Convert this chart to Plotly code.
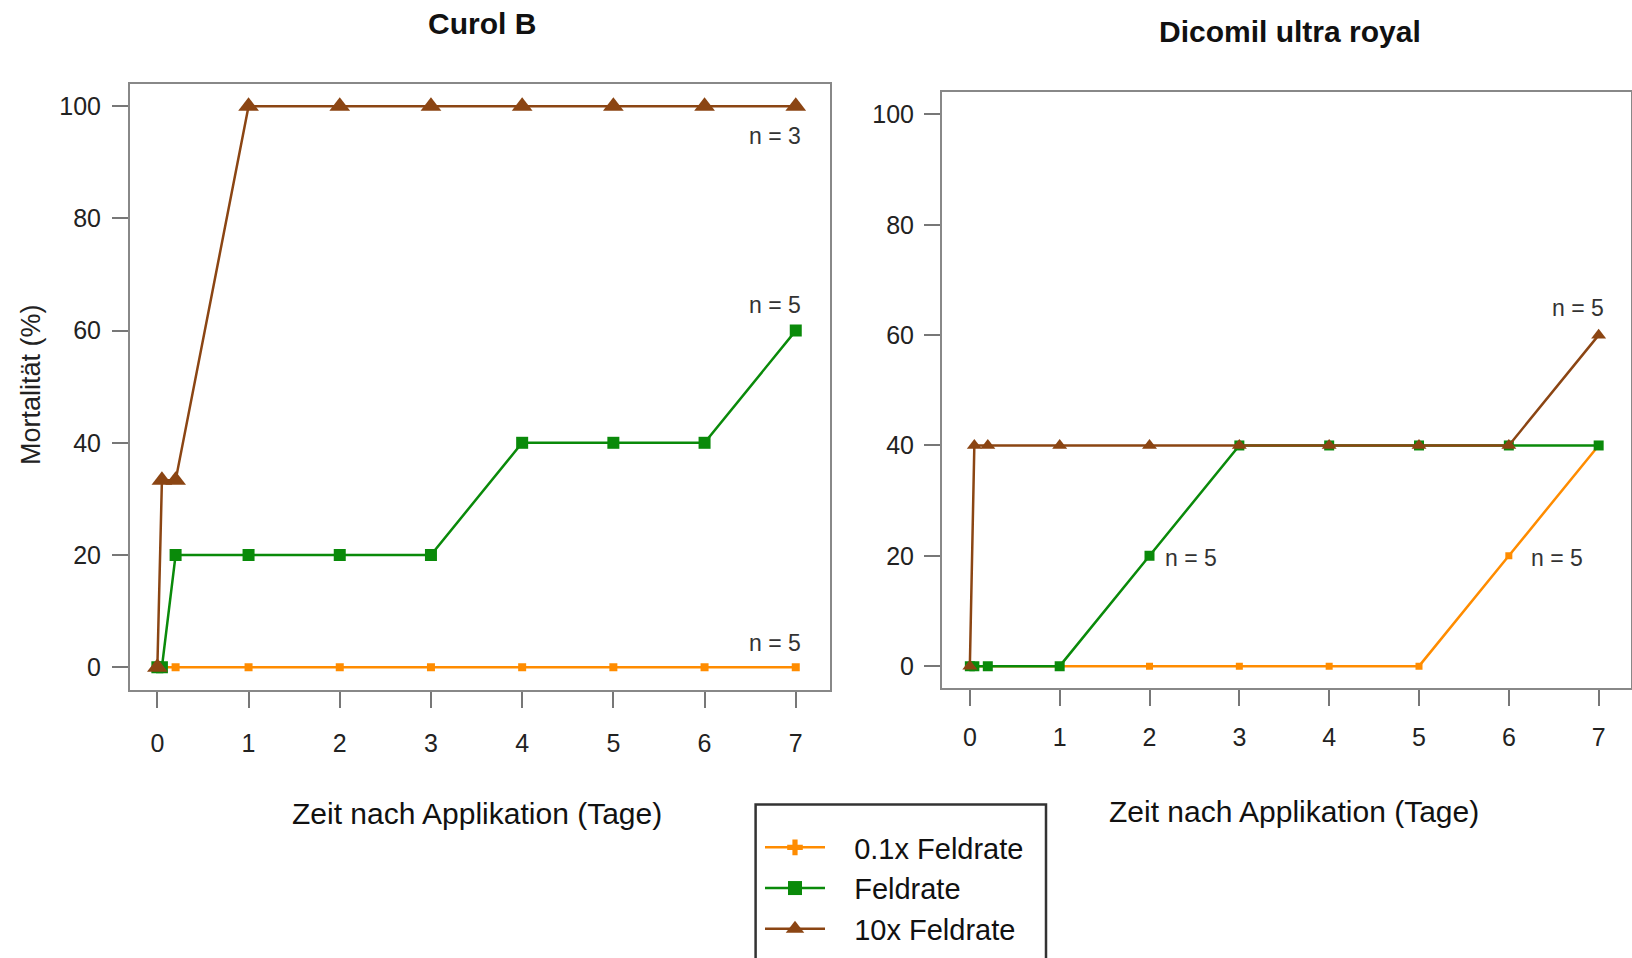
import plotly.graph_objects as go

# ---- data ----
days = [0, 0.05, 0.2, 1, 2, 3, 4, 5, 6, 7]
tick_vals = [0, 1, 2, 3, 4, 5, 6, 7]
y_ticks = [0, 20, 40, 60, 80, 100]

curol_low = [0, 0, 0, 0, 0, 0, 0, 0, 0, 0]
curol_field = [0, 0, 20, 20, 20, 20, 40, 40, 40, 60]
curol_high = [0, 33.3, 33.3, 100, 100, 100, 100, 100, 100, 100]

dicomil_low = [0, 0, 0, 0, 0, 0, 0, 0, 20, 40]
dicomil_field = [0, 0, 0, 0, 20, 40, 40, 40, 40, 40]
dicomil_high = [0, 40, 40, 40, 40, 40, 40, 40, 40, 60]

series_names = ["0.1x Feldrate", "Feldrate", "10x Feldrate"]
colors = ["#FF8C00", "#0A8A0A", "#8B4513"]
symbols = ["square", "square", "triangle-up"]
legend_symbols = ["cross", "square", "triangle-up"]

FONT = "Liberation Sans, Arial, sans-serif"
W, H = 1632, 958
NB = "\u00a0" * 3

fig = go.Figure()

left_sizes = [8, 12, 18]
right_sizes = [7, 10, 13]
legend_sizes = [13, 14, 16]
left_data = [curol_low, curol_field, curol_high]
right_data = [dicomil_low, dicomil_field, dicomil_high]

for i in range(3):
    fig.add_trace(go.Scatter(
        x=days, y=left_data[i], mode="lines+markers", name=NB + series_names[i],
        line=dict(color=colors[i], width=2.5),
        marker=dict(symbol=symbols[i], size=left_sizes[i], color=colors[i]),
        xaxis="x", yaxis="y", legendgroup=series_names[i], showlegend=False))
for i in range(3):
    fig.add_trace(go.Scatter(
        x=days, y=right_data[i], mode="lines+markers", name=NB + series_names[i],
        line=dict(color=colors[i], width=2.5),
        marker=dict(symbol=symbols[i], size=right_sizes[i], color=colors[i]),
        xaxis="x2", yaxis="y2", legendgroup=series_names[i], showlegend=False))
# legend entries (no visible marks in the plot)
for i in range(3):
    fig.add_trace(go.Scatter(
        x=[None], y=[None], mode="lines+markers", name=NB + series_names[i],
        line=dict(color=colors[i], width=2.5),
        marker=dict(symbol=legend_symbols[i], size=legend_sizes[i], color=colors[i]),
        xaxis="x", yaxis="y", legendgroup=series_names[i], showlegend=True))

axis_common = dict(
    showgrid=False, zeroline=False, showline=True, mirror=True,
    linecolor="#888888", linewidth=2, ticks="outside", ticklen=16,
    tickcolor="#777777", tickwidth=2,
    tickfont=dict(family=FONT, size=25, color="#222222"),
)

fig.update_layout(
    width=W, height=H,
    margin=dict(l=0, r=0, t=0, b=0),
    paper_bgcolor="white", plot_bgcolor="white",
    xaxis=dict(domain=[130 / W, 829.5 / W], range=[-0.30, 7.37],
               tickvals=tick_vals, ticklabelstandoff=14, **axis_common),
    yaxis=dict(domain=[1 - 689.6 / H, 1 - 83.8 / H], range=[-4, 104],
               tickvals=y_ticks, ticklabelstandoff=6, **axis_common),
    xaxis2=dict(domain=[942 / W, 1631 / W], range=[-0.31, 7.36],
                tickvals=tick_vals, ticklabelstandoff=10, anchor="y2", **axis_common),
    yaxis2=dict(domain=[1 - 688.2 / H, 1 - 92.4 / H], range=[-4, 104],
                tickvals=y_ticks, ticklabelstandoff=5, anchor="x2", **axis_common),
    showlegend=True,
    legend=dict(x=760 / W, y=1 - 822 / H, xanchor="left", yanchor="top",
                font=dict(family=FONT, size=29, color="#111111"),
                bgcolor="rgba(0,0,0,0)", borderwidth=0,
                itemwidth=60, tracegroupgap=0),
    font=dict(family=FONT),
)

# legend box
fig.add_shape(type="rect", xref="paper", yref="paper",
              x0=755.6 / W, x1=1046 / W, y0=-0.05, y1=1 - 804.5 / H,
              line=dict(color="#333333", width=2.5))

ann = []
pa = dict(xref="paper", yref="paper", xanchor="center", yanchor="middle", showarrow=False)
# titles
ann.append(dict(text="<b>Curol B</b>", x=482 / W, y=1 - 23 / H,
                font=dict(family=FONT, size=30, color="#111111"), **pa))
ann.append(dict(text="<b>Dicomil ultra royal</b>", x=1290 / W, y=1 - 32 / H,
                font=dict(family=FONT, size=30, color="#111111"), **pa))
# axis titles
ann.append(dict(text="Zeit nach Applikation (Tage)", x=477 / W, y=1 - 813 / H,
                font=dict(family=FONT, size=30, color="#111111"), **pa))
ann.append(dict(text="Zeit nach Applikation (Tage)", x=1294 / W, y=1 - 811 / H,
                font=dict(family=FONT, size=30, color="#111111"), **pa))
ann.append(dict(text="Mortalität (%)", x=31 / W, y=1 - 385 / H, textangle=-90,
                font=dict(family=FONT, size=27, color="#222222"), **pa))
# n labels
nfont = dict(family=FONT, size=23, color="#333333")
na = dict(showarrow=False, yanchor="middle", font=nfont)
ann.append(dict(text="n = 3", x=7.08, y=94.7, xref="x", yref="y", xanchor="right", **na))
ann.append(dict(text="n = 5", x=7.08, y=64.5, xref="x", yref="y", xanchor="right", **na))
ann.append(dict(text="n = 5", x=7.08, y=4.3, xref="x", yref="y", xanchor="right", **na))
ann.append(dict(text="n = 5", x=7.08, y=64.9, xref="x2", yref="y2", xanchor="right", **na))
ann.append(dict(text="n = 5", x=2.15, y=19.6, xref="x2", yref="y2", xanchor="left", **na))
ann.append(dict(text="n = 5", x=6.22, y=19.6, xref="x2", yref="y2", xanchor="left", **na))
fig.update_layout(annotations=ann)

fig.write_html("out.html")
